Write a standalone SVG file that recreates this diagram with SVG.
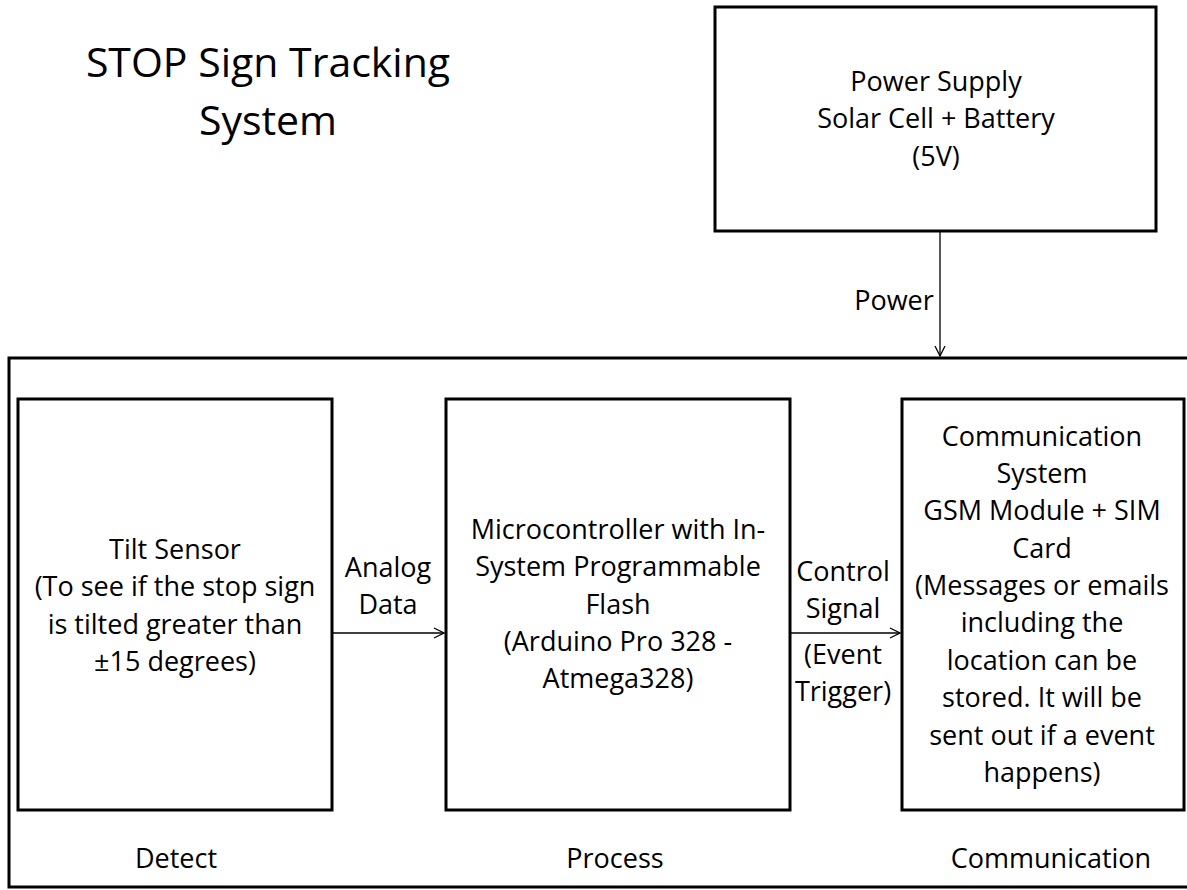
<svg xmlns="http://www.w3.org/2000/svg" width="1187" height="890" viewBox="0 0 1187 890">
<style>
.box{fill:#fff;stroke:#000;stroke-width:3}
.t{font-family:"Open Sans","Liberation Sans",sans-serif;font-size:27px;fill:#000;text-anchor:middle}
.title{font-family:"Open Sans","Liberation Sans",sans-serif;font-size:41px;fill:#000;text-anchor:middle}
.c{stroke:#000;stroke-width:1.3;fill:none}
</style>
<defs>
<marker id="arr" viewBox="0 0 12 12" refX="11" refY="6" markerWidth="12" markerHeight="12" markerUnits="userSpaceOnUse" orient="auto">
<path d="M1,1 L11,6 L1,11" fill="none" stroke="#000" stroke-width="1.3"/>
</marker>
</defs>
<rect width="1187" height="890" fill="#fff"/>
<g id="title">
<text class="title" x="268" y="77">STOP Sign Tracking</text>
<text class="title" x="268" y="135">System</text>
</g>
<g id="system">
<rect class="box" x="9" y="358" width="1190" height="529"/>
<text class="t" x="176" y="868">Detect</text>
<text class="t" x="615" y="868">Process</text>
<text class="t" x="1051" y="868">Communication</text>
</g>
<g id="power">
<rect class="box" x="715" y="7" width="441" height="224"/>
<text class="t" x="936" y="91">Power Supply</text>
<text class="t" x="936" y="128">Solar Cell + Battery</text>
<text class="t" x="936" y="166">(5V)</text>
</g>
<g id="tilt">
<rect class="box" x="18" y="399" width="314" height="411"/>
<text class="t" x="175" y="559">Tilt Sensor</text>
<text class="t" x="175" y="596">(To see if the stop sign</text>
<text class="t" x="175" y="634">is tilted greater than</text>
<text class="t" x="175" y="671">±15 degrees)</text>
</g>
<g id="micro">
<rect class="box" x="446" y="399" width="344" height="411"/>
<text class="t" x="618" y="539">Microcontroller with In-</text>
<text class="t" x="618" y="576">System Programmable</text>
<text class="t" x="618" y="614">Flash</text>
<text class="t" x="618" y="651">(Arduino Pro 328 -</text>
<text class="t" x="618" y="688">Atmega328)</text>
</g>
<g id="comm">
<rect class="box" x="902" y="399" width="282" height="411"/>
<text class="t" x="1042" y="446">Communication</text>
<text class="t" x="1042" y="483">System</text>
<text class="t" x="1042" y="520">GSM Module + SIM</text>
<text class="t" x="1042" y="558">Card</text>
<text class="t" x="1042" y="595">(Messages or emails</text>
<text class="t" x="1042" y="632">including the</text>
<text class="t" x="1042" y="670">location can be</text>
<text class="t" x="1042" y="707">stored. It will be</text>
<text class="t" x="1042" y="745">sent out if a event</text>
<text class="t" x="1042" y="782">happens)</text>
</g>
<g id="connectors">
<line class="c" x1="940" y1="232" x2="940" y2="356" marker-end="url(#arr)"/>
<line class="c" x1="333" y1="633" x2="444" y2="633" marker-end="url(#arr)"/>
<line class="c" x1="791" y1="633" x2="900" y2="633" marker-end="url(#arr)"/>
<text class="t" x="894" y="310">Power</text>
<text class="t" x="388" y="577">Analog</text>
<text class="t" x="388" y="614">Data</text>
<text class="t" x="843" y="581">Control</text>
<text class="t" x="843" y="618">Signal</text>
<text class="t" x="843" y="664">(Event</text>
<text class="t" x="843" y="701">Trigger)</text>
</g>
</svg>
